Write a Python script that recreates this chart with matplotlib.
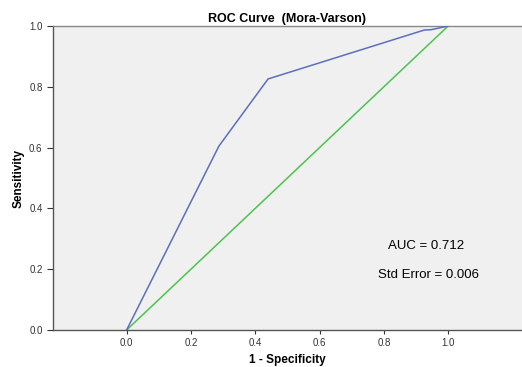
import matplotlib
matplotlib.use("Agg")
import matplotlib.pyplot as plt

plt.rcParams['font.family'] = ['Liberation Sans', 'DejaVu Sans']

fpr = [0.0, 0.287, 0.44, 0.926, 0.947, 1.0]
tpr = [0.0, 0.605, 0.826, 0.987, 0.988, 1.0]
ref_x = [0.0, 1.0]
ref_y = [0.0, 1.0]
ticks = [0.0, 0.2, 0.4, 0.6, 0.8, 1.0]
tick_labels = ["0.0", "0.2", "0.4", "0.6", "0.8", "1.0"]

fig = plt.figure(figsize=(5.22, 3.67), dpi=100)
ax = fig.add_axes([0.1015, 0.1008, 0.898, 0.8282])
ax.set_facecolor('#F0F0F0')
ax.plot(fpr, tpr, color='#5B6FBE', lw=1.1, zorder=3)
ax.plot(ref_x, ref_y, color='#4CC44C', lw=1.1, zorder=2)
ax.set_xlim(-0.229, 1.229)
ax.set_ylim(0, 1)
ax.set_xticks(ticks)
ax.set_xticklabels(tick_labels)
ax.set_yticks(ticks)
ax.set_yticklabels(tick_labels)
ax.tick_params(axis='both', labelsize=7, colors='#333333', length=4, width=0.8, direction='out')
ax.tick_params(axis='x', length=3, pad=3)
for s in ['left', 'bottom']:
    ax.spines[s].set_color('#555555')
    ax.spines[s].set_linewidth(1.0)
ax.spines['top'].set_color('#888888')
ax.spines['top'].set_linewidth(1.0)
ax.spines['right'].set_visible(False)
ax.set_title('ROC Curve  (Mora-Varson)', fontsize=9, fontweight='bold', pad=3)
ax.set_xlabel('1 - Specificity', fontsize=8.5, fontweight='bold', labelpad=4)
ax.set_ylabel('Sensitivity', fontsize=8.5, fontweight='bold', labelpad=3)
ax.text(0.93, 0.275, 'AUC = 0.712', fontsize=9.5, ha='center', va='center')
ax.text(0.94, 0.18, 'Std Error = 0.006', fontsize=9.5, ha='center', va='center')
fig.savefig('out.png', dpi=100)
